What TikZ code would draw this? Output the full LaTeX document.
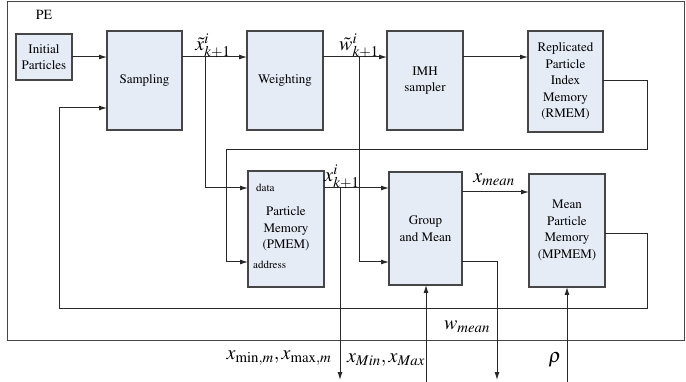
\documentclass[tikz,border=0pt]{standalone}
\usepackage[T1]{fontenc}
\usepackage{mathptmx}
\usetikzlibrary{arrows.meta}
\definecolor{boxfill}{RGB}{230,236,246}
\definecolor{boxline}{RGB}{70,70,70}
\definecolor{wire}{RGB}{40,40,40}
\tikzset{
  blk/.style={draw=boxline, fill=boxfill, line width=1.1pt, inner sep=0pt, outer sep=0pt,
    align=center, font=\fontsize{13}{16.5}\selectfont},
  arr/.style={draw=wire, line width=1pt, -{Latex[length=8pt,width=5pt]}},
  mlab/.style={inner sep=0pt, font=\fontsize{20}{24}\selectfont},
  port/.style={inner sep=0pt, font=\fontsize{11}{13}\selectfont, anchor=west}
}
\begin{document}
\begin{tikzpicture}[x=1pt,y=-1pt]
\useasboundingbox (0,0) rectangle (686,382);
% PE frame
\node[draw=boxline, line width=1.2pt, minimum width=677pt, minimum height=339pt, inner sep=0pt, anchor=north west] (pe) at (7,1) {};
\node[inner sep=0pt, font=\fontsize{14}{16}\selectfont] (pelab) at (44,15) {PE};
% blocks
\node[blk, minimum width=56pt, minimum height=46pt] (init) at (44,57) {Initial\\Particles};
\node[blk, minimum width=75pt, minimum height=99pt] (samp) at (144.5,80.5) {Sampling};
\node[blk, minimum width=76pt, minimum height=99pt] (weight) at (285,80.5) {Weighting};
\node[blk, minimum width=76pt, minimum height=99pt] (imh) at (425,80.5) {IMH\\sampler};
\node[blk, minimum width=75pt, minimum height=101pt] (rmem) at (565.5,81.5) {Replicated\\Particle\\Index\\Memory\\(RMEM)};
\node[blk, minimum width=76pt, minimum height=116pt] (pmem) at (286,229) {Particle\\Memory\\(PMEM)};
\node[blk, minimum width=73pt, minimum height=113pt] (gm) at (425.5,228.5) {Group\\and Mean};
\node[blk, minimum width=76pt, minimum height=113pt] (mpmem) at (567,230.5) {Mean\\Particle\\Memory\\(MPMEM)};
\node[port] (data) at (256,188) {data};
\node[port] (addr) at (253,265) {address};
% coordinates
\coordinate (b1) at (205,57);
\coordinate (b2) at (359,57);
\coordinate (b3) at (340,188);
\coordinate (r1) at (647,81);
\coordinate (r2) at (647,150);
\coordinate (r3) at (226,150);
\coordinate (m1) at (647,234);
\coordinate (m2) at (647,309);
\coordinate (m3) at (59,309);
\coordinate (o1) at (340,380);
\coordinate (g1) at (497,262);
\coordinate (o2) at (497,380);
\coordinate (i1) at (426,382);
\coordinate (i2) at (567,382);
% main chain
\draw[arr] (init.east) -- (init.east -| samp.west);
\draw[arr] (samp.east |- init.east) -- (weight.west |- init.east);
\draw[arr] (weight.east |- init.east) -- (imh.west |- init.east);
\draw[arr] (imh.east |- init.east) -- (rmem.west |- init.east);
% branches
\draw[arr] (b1) |- (pmem.west |- data);
\draw[arr] (b2) |- (gm.west |- g1);
\draw[arr] (rmem.east |- r1) -- (r1) -- (r2) -- (r3) |- (pmem.west |- g1);
\draw[arr] (pmem.east |- data) -- (gm.west |- data);
\draw[arr] (b3) -- (o1);
\draw[arr] (gm.east |- 0,192) -- (mpmem.west |- 0,192);
\draw[arr] (gm.east |- g1) -- (g1) -- (o2);
\draw[arr] (i1) -- (i1 |- gm.south);
\draw[arr] (i2) -- (i2 |- mpmem.south);
\draw[arr] (mpmem.east |- m1) -- (m1) -- (m2) -- (m3) |- (samp.west |- 0,108);
% labels
\node[mlab] (lx1) at (213,46) {$\tilde{x}^{i}_{k+1}$};
\node[mlab] (lw1) at (359,46) {$\tilde{w}^{i}_{k+1}$};
\node[mlab] (lx2) at (342,177) {$x^{i}_{k+1}$};
\node[mlab] (lxm) at (494,180) {$x_{mean}$};
\node[mlab] (lwm) at (467,327) {$w_{mean}$};
\node[mlab] (lmm) at (279,358) {$x_{\mathrm{min},m},x_{\mathrm{max},m}$};
\node[mlab] (lMM) at (386,360) {$x_{Min},x_{Max}$};
\node[mlab] (lrho) at (555,360) {$\rho$};
\end{tikzpicture}
\end{document}
